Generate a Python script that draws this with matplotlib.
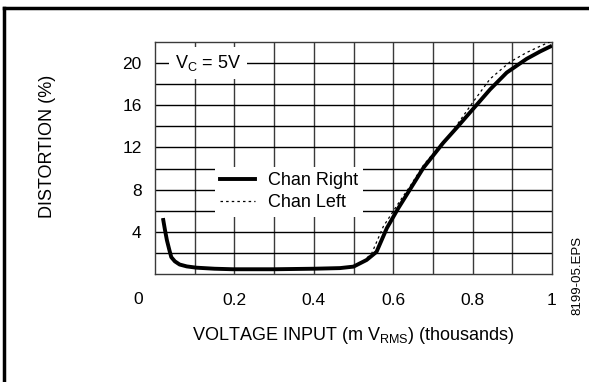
import matplotlib
matplotlib.use("Agg")
import matplotlib.pyplot as plt
from matplotlib.lines import Line2D
from matplotlib.transforms import blended_transform_factory

plt.rcParams['font.family'] = ['Liberation Sans', 'DejaVu Sans']
plt.rcParams['mathtext.fontset'] = 'custom'
plt.rcParams['mathtext.rm'] = 'Liberation Sans'

# Data (voltage input in thousands of mV RMS, distortion in %)
right_x = [0.02, 0.025, 0.03, 0.036, 0.041, 0.05, 0.062, 0.08, 0.104, 0.15, 0.196, 0.30,
           0.40, 0.466, 0.50, 0.533, 0.558, 0.584, 0.613, 0.642, 0.676, 0.726,
           0.76, 0.80, 0.844, 0.886, 0.936, 0.97, 1.0]
right_y = [5.3, 4.2, 3.2, 2.3, 1.6, 1.2, 0.9, 0.72, 0.6, 0.5, 0.45, 0.45,
           0.5, 0.56, 0.7, 1.33, 2.1, 4.35, 6.25, 8.0, 10.06, 12.44,
           13.87, 15.6, 17.5, 19.1, 20.4, 21.1, 21.65]
left_x = [0.02, 0.025, 0.03, 0.036, 0.041, 0.05, 0.062, 0.08, 0.104, 0.15, 0.196, 0.30,
          0.40, 0.466, 0.50, 0.525, 0.546, 0.575, 0.613, 0.642, 0.676, 0.72,
          0.743, 0.80, 0.844, 0.894, 0.936, 0.97, 1.0]
left_y = [5.3, 4.2, 3.2, 2.3, 1.6, 1.2, 0.9, 0.72, 0.6, 0.5, 0.45, 0.45,
          0.5, 0.56, 0.7, 1.2, 1.97, 4.5, 6.7, 8.3, 10.3, 12.3,
          13.2, 16.25, 18.5, 20.1, 21.0, 21.6, 22.1]

x_ticks = [0.2, 0.4, 0.6, 0.8, 1.0]
x_labels = ['0.2', '0.4', '0.6', '0.8', '1']
y_ticks = [4, 8, 12, 16, 20]
y_labels = ['4', '8', '12', '16', '20']

W, H = 589, 382
fig = plt.figure(figsize=(W / 100, H / 100), dpi=100)
ax = fig.add_axes([155 / W, 1 - 274 / H, (552 - 155) / W, (274 - 42) / H])

ax.set_xlim(0, 1.0)
ax.set_ylim(0, 22)
ax.set_xticks(x_ticks)
ax.set_xticklabels(x_labels)
ax.set_yticks(y_ticks)
ax.set_yticklabels(y_labels)
ax.tick_params(which='both', length=0, labelsize=12.5, colors='black')
ax.tick_params(axis='x', pad=14)
ax.tick_params(axis='y', pad=9.6)

# grid lines every 0.1 on x and every 2 on y
for i in range(1, 10):
    ax.axvline(i / 10, color='#3a3a3a', linewidth=1.0, zorder=1)
for j in range(2, 22, 2):
    ax.axhline(j, color='black', linewidth=1.0, zorder=1)
for s in ax.spines.values():
    s.set_linewidth(1.0)
    s.set_color('#3a3a3a')

ax.plot(left_x, left_y, color='black', linewidth=0.9, linestyle=(0, (2, 2.5)), zorder=3)
ax.plot(right_x, right_y, color='black', linewidth=2.8, solid_capstyle='butt',
        solid_joinstyle='round', zorder=4)

handles = [Line2D([], [], color='black', linewidth=2.8),
           Line2D([], [], color='black', linewidth=0.9, linestyle=(0, (2, 2.5)))]
leg = ax.legend(handles, ['Chan Right', 'Chan Left'], loc='upper left',
                bbox_to_anchor=((215 - 155) / 397, (274 - 167) / 232),
                frameon=True, fancybox=False, framealpha=1, edgecolor='none',
                fontsize=13, handlelength=1.95, handletextpad=0.72,
                borderpad=0.28, labelspacing=0.3, borderaxespad=0)
leg.set_zorder(5)

ax.text((175 - 155) / 397, 20, r'V$_\mathregular{C}$ = 5V', fontsize=13,
        va='center', ha='left',
        transform=blended_transform_factory(ax.transAxes, ax.transData),
        bbox=dict(facecolor='white', edgecolor='none', pad=4), zorder=5)

fig.text(353 / W, 1 - 340 / H, r'VOLTAGE INPUT (m V$_\mathregular{RMS}$) (thousands)',
         fontsize=13, ha='center', va='baseline')
fig.text(137.7 / W, 1 - 300 / H, '0', fontsize=12.5, ha='center', va='center')
fig.text(47 / W, 1 - 146 / H, 'DISTORTION (%)', fontsize=13, rotation=90,
         ha='center', va='center')
fig.text(577 / W, 1 - 275 / H, '8199-05.EPS', fontsize=9.5, rotation=90,
         ha='center', va='center')

# outer frame (left and top)
fig.add_artist(Line2D([4 / W, 4 / W], [0, 1 - 8 / H], color='black', linewidth=2.5,
                      transform=fig.transFigure))
fig.add_artist(Line2D([4 / W, 1], [1 - 8 / H, 1 - 8 / H], color='black', linewidth=2.5,
                      transform=fig.transFigure))

fig.savefig('out.png', dpi=100)
